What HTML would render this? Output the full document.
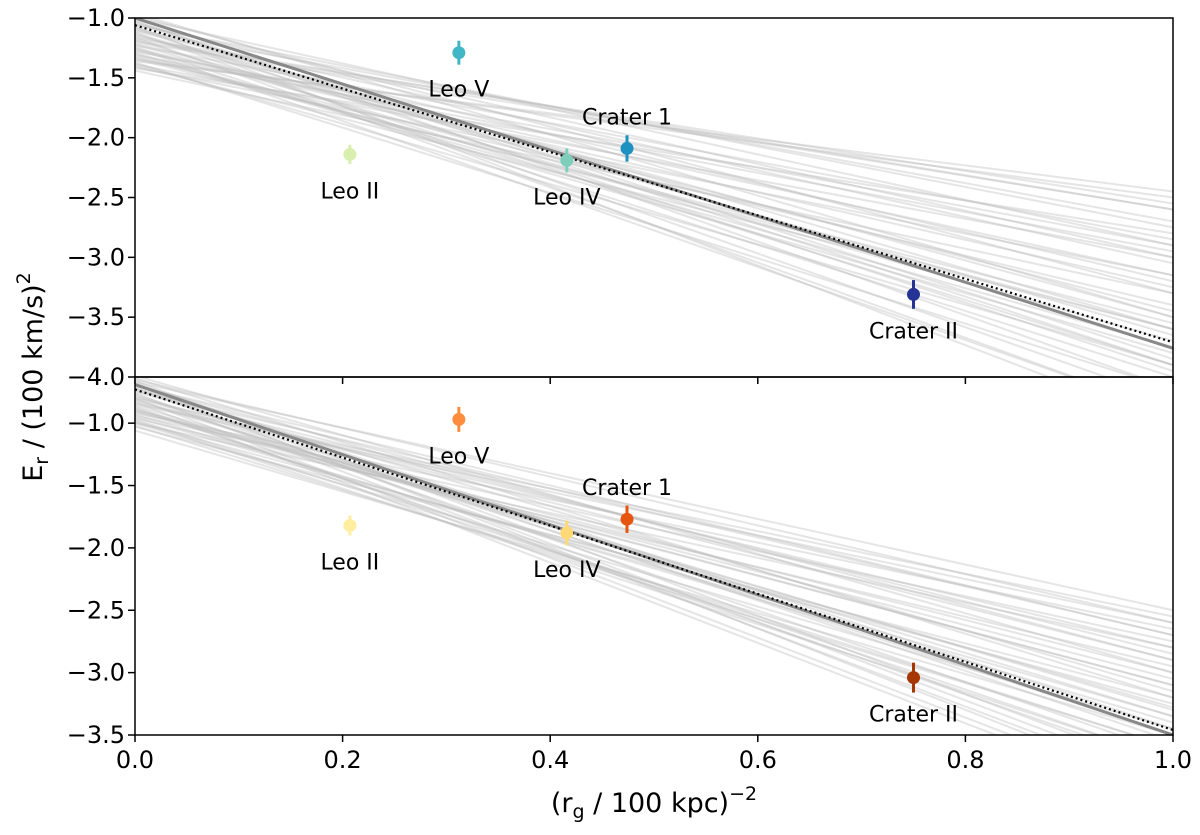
<!DOCTYPE html>
<html><head><meta charset="utf-8"><style>
body{margin:0;background:#fff}
svg text{font-family:"DejaVu Sans","Liberation Sans",sans-serif;fill:#000}
</style></head><body>
<svg id="chart" width="1200" height="830" xmlns="http://www.w3.org/2000/svg">
<g id="g"></g>
</svg>
<script>
const names=["Leo II","Leo V","Leo IV","Crater 1","Crater II"];
const xs=[0.207,0.312,0.416,0.474,0.75];
const topY=[-2.14,-1.29,-2.19,-2.09,-3.31];
const botY=[-1.82,-0.97,-1.88,-1.77,-3.04];
const errs=[0.08,0.1,0.1,0.11,0.12];
const topColors=["#d9efb0","#41b6c4","#7fcdbb","#1d91c0","#253494"];
const botColors=["#ffeda0","#fd8d3c","#fed976","#e6550d","#a63603"];
const topFit=[-1.0,-3.76]; const topMean=[-1.06,-3.71];
const botFit=[-0.69,-3.5]; const botMean=[-0.73,-3.46];
const topSampStart=[-0.98,-1.02,-1.05,-1.08,-1.1,-1.12,-1.15,-1.18,-1.2,-1.22,-1.25,-1.28,-1.3,-1.33,-1.35,-1.38,-1.4,-1.42,-1.0,-1.03,-1.07,-1.11,-1.14,-1.17,-1.21,-1.24,-1.27,-1.31,-1.34,-1.37,-0.96,-1.06,-1.16,-1.26,-1.36,-1.44,-1.09,-1.19,-1.29,-1.39,-1.13,-1.23,-1.04,-1.32,-1.41];
const topSampEnd=[-3.3,-4.1,-3.0,-3.6,-2.7,-4.2,-3.2,-3.9,-2.6,-3.7,-4.3,-2.9,-3.8,-3.4,-2.5,-3.9,-3.6,-2.8,-2.9,-3.85,-4.4,-3.05,-3.65,-2.6,-3.45,-4.0,-3.25,-2.95,-3.55,-4.1,-3.5,-2.75,-4.3,-3.15,-2.45,-3.3,-3.95,-2.55,-3.75,-3.0,-3.5,-2.85,-3.9,-3.6,-3.15];
const botSampStart=[-0.62,-0.66,-0.7,-0.73,-0.76,-0.79,-0.82,-0.85,-0.88,-0.91,-0.94,-0.97,-1.0,-1.03,-1.06,-0.65,-0.69,-0.72,-0.75,-0.78,-0.81,-0.84,-0.87,-0.9,-0.93,-0.96,-0.99,-1.02,-0.68,-0.74,-0.8,-0.86,-0.92,-0.98,-0.64,-0.7,-0.77,-0.83,-0.89,-0.95,-0.71,-0.8,-0.9,-1.0,-0.67];
const botSampEnd=[-3.0,-3.8,-2.7,-3.55,-3.9,-2.9,-3.3,-2.6,-3.7,-3.1,-2.75,-3.6,-2.8,-3.2,-3.5,-2.6,-3.95,-3.15,-2.85,-3.65,-3.35,-2.55,-3.75,-3.05,-3.4,-2.95,-3.25,-3.6,-3.45,-2.7,-4.0,-3.28,-2.65,-3.7,-3.2,-2.9,-3.5,-4.05,-3.0,-3.35,-3.85,-2.8,-3.1,-3.45,-2.5];
const xTicks=[0,0.2,0.4,0.6,0.8,1.0];
const topTicks=[-1.0,-1.5,-2.0,-2.5,-3.0,-3.5,-4.0];
const botTicks=[-1.0,-1.5,-2.0,-2.5,-3.0,-3.5];
const NS="http://www.w3.org/2000/svg";
const g=document.getElementById('g');
const X0=135,X1=1173;
const sx=v=>X0+v*(X1-X0);
function mk(t,a,p){const e=document.createElementNS(NS,t);for(const k in a)e.setAttribute(k,a[k]);(p||g).appendChild(e);return e;}
function panel(top,bottom,yTop,yBot,ticks,pts,cols,fit,mean,ss,se,pre){
  const sy=v=>top+(yTop-v)/(yTop-yBot)*(bottom-top);
  const cid=pre+'clip';
  const cp=mk('clipPath',{id:cid});mk('rect',{x:X0,y:top,width:X1-X0,height:bottom-top},cp);
  const grp=mk('g',{'clip-path':'url(#'+cid+')'});
  
  
  for(let i=0;i<ss.length;i++){
    const l=mk('line',{x1:sx(0),y1:sy(ss[i]),x2:sx(1),y2:sy(se[i]),stroke:'#bdbdbd','stroke-opacity':0.4,'stroke-width':2},grp);
    
    
  }
  const f=mk('line',{x1:sx(0),y1:sy(fit[0]),x2:sx(1),y2:sy(fit[1]),stroke:'#888','stroke-width':3},grp);
  
  
  const m=mk('line',{x1:sx(0),y1:sy(mean[0]),x2:sx(1),y2:sy(mean[1]),stroke:'#000','stroke-width':2.2,'stroke-dasharray':'2,3'},grp);
  
  
  for(let i=0;i<xs.length;i++){
    const e=mk('line',{x1:sx(xs[i]),x2:sx(xs[i]),y1:sy(pts[i]+errs[i]),y2:sy(pts[i]-errs[i]),stroke:cols[i],'stroke-width':3},grp);
    
    
    const c=mk('circle',{cx:sx(xs[i]),cy:sy(pts[i]),r:6.5,fill:cols[i]},grp);
    
    
    const above=names[i]==='Crater 1';
    const t=mk('text',{x:sx(xs[i]),y:above?sy(pts[i])-24:sy(pts[i])+44,'text-anchor':'middle','font-size':22},grp.parentNode===g?g:g);
    t.textContent=names[i];
    
    
  }
  const fr=mk('rect',{x:X0,y:top,width:X1-X0,height:bottom-top,fill:'none',stroke:'#000','stroke-width':1.5});
  
  
  ticks.forEach(v=>{
    mk('line',{x1:X0-7,x2:X0,y1:sy(v),y2:sy(v),stroke:'#000','stroke-width':1.5});
    const t=mk('text',{x:X0-10,y:sy(v)+8,'text-anchor':'end','font-size':24});
    t.textContent=v.toFixed(1).replace('-','\u2212');
    
    
  });
  xTicks.forEach(v=>{mk('line',{x1:sx(v),x2:sx(v),y1:bottom,y2:bottom+7,stroke:'#000','stroke-width':1.5});});
}
panel(18,377,-1.0,-4.0,topTicks,topY,topColors,topFit,topMean,topSampStart,topSampEnd,'top');
panel(377,735,-0.63,-3.5,botTicks,botY,botColors,botFit,botMean,botSampStart,botSampEnd,'bottom');
xTicks.forEach(v=>{
  const t=mk('text',{x:sx(v),y:768,'text-anchor':'middle','font-size':24});
  t.textContent=v.toFixed(1);
  
  
});
const xt=mk('text',{x:654,y:812,'text-anchor':'middle','font-size':27});
xt.innerHTML='(r<tspan font-size="19" dy="6">g</tspan><tspan dy="-6"> / 100 kpc)</tspan><tspan font-size="19" dy="-12">\u22122</tspan>';


const yt=mk('text',{x:0,y:0,'text-anchor':'middle','font-size':27,transform:'translate(42,377) rotate(-90)'});
yt.innerHTML='E<tspan font-size="19" dy="6">r</tspan><tspan dy="-6"> / (100 km/s)</tspan><tspan font-size="19" dy="-12">2</tspan>';


</script>
</body></html>
